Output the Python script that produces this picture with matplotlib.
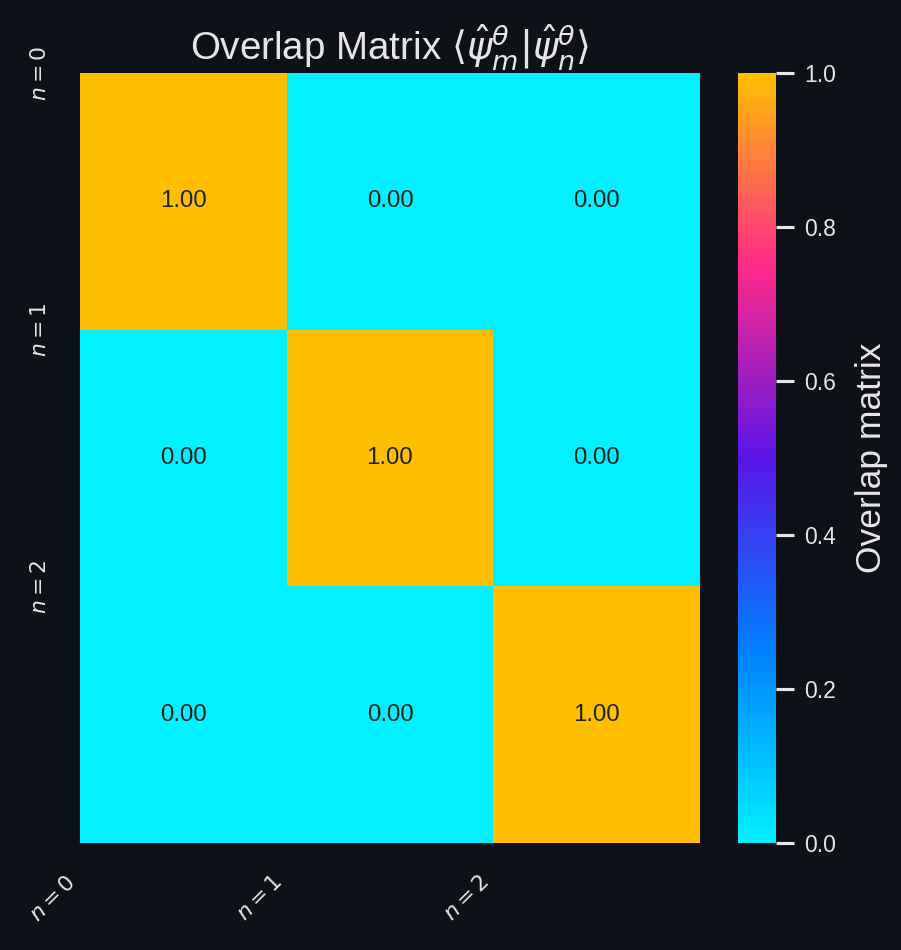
import matplotlib
matplotlib.use("Agg")
import matplotlib.pyplot as plt
from matplotlib.colors import LinearSegmentedColormap
import numpy as np

# overlap matrix values (identity)
overlap = np.array([
    [1.0, 0.0, 0.0],
    [0.0, 1.0, 0.0],
    [0.0, 0.0, 1.0],
])
state_labels = ["$n=0$", "$n=1$", "$n=2$"]
cbar_ticks = [0.0, 0.2, 0.4, 0.6, 0.8, 1.0]

bg = "#0e1117"
fg = "#e6e6e6"

plt.rcParams["font.family"] = ["Liberation Sans", "DejaVu Sans"]

cmap = LinearSegmentedColormap.from_list(
    "neon",
    [(0.0, "#00f0ff"), (0.25, "#0080ff"), (0.5, "#5a14e8"),
     (0.75, "#ff2a8a"), (1.0, "#ffbf00")],
)

fig = plt.figure(figsize=(901 / 150, 950 / 150), dpi=150, facecolor=bg)
ax = fig.add_axes([80 / 901, 107 / 950, 620 / 901, 770 / 950])
cax = fig.add_axes([738 / 901, 107 / 950, 38 / 901, 770 / 950])
ax.set_facecolor(bg)

n = overlap.shape[0]
mesh = ax.pcolormesh(np.arange(n + 1), np.arange(n + 1), overlap,
                     cmap=cmap, vmin=0, vmax=1)
ax.set_xlim(0, n)
ax.set_ylim(n, 0)

for i in range(n):
    for j in range(n):
        ax.text(j + 0.5, i + 0.5, f"{overlap[i, j]:.2f}", ha="center",
                va="center", fontsize=11.5, color="#222222")

ax.set_xticks(range(n))
ax.set_xticklabels(state_labels, rotation=45, ha="right", fontsize=10.5, color=fg)
ax.set_yticks(range(n))
ax.set_yticklabels(state_labels, rotation=90, va="center", fontsize=10.5, color=fg)
ax.tick_params(length=0, pad=14)
for s in ax.spines.values():
    s.set_visible(False)

ax.set_title(r"Overlap Matrix $\langle\hat{\psi}^{\theta}_m|\hat{\psi}^{\theta}_n\rangle$",
             fontsize=18.5, color=fg, pad=6)

cb = fig.colorbar(mesh, cax=cax, ticks=cbar_ticks)
cb.outline.set_visible(False)
cb.ax.tick_params(length=8.5, width=1.5, color=fg, labelcolor=fg, labelsize=11, pad=5)
cb.set_label("Overlap matrix", fontsize=17, color=fg, labelpad=9)

fig.savefig("out.png", dpi=150, facecolor=bg)
